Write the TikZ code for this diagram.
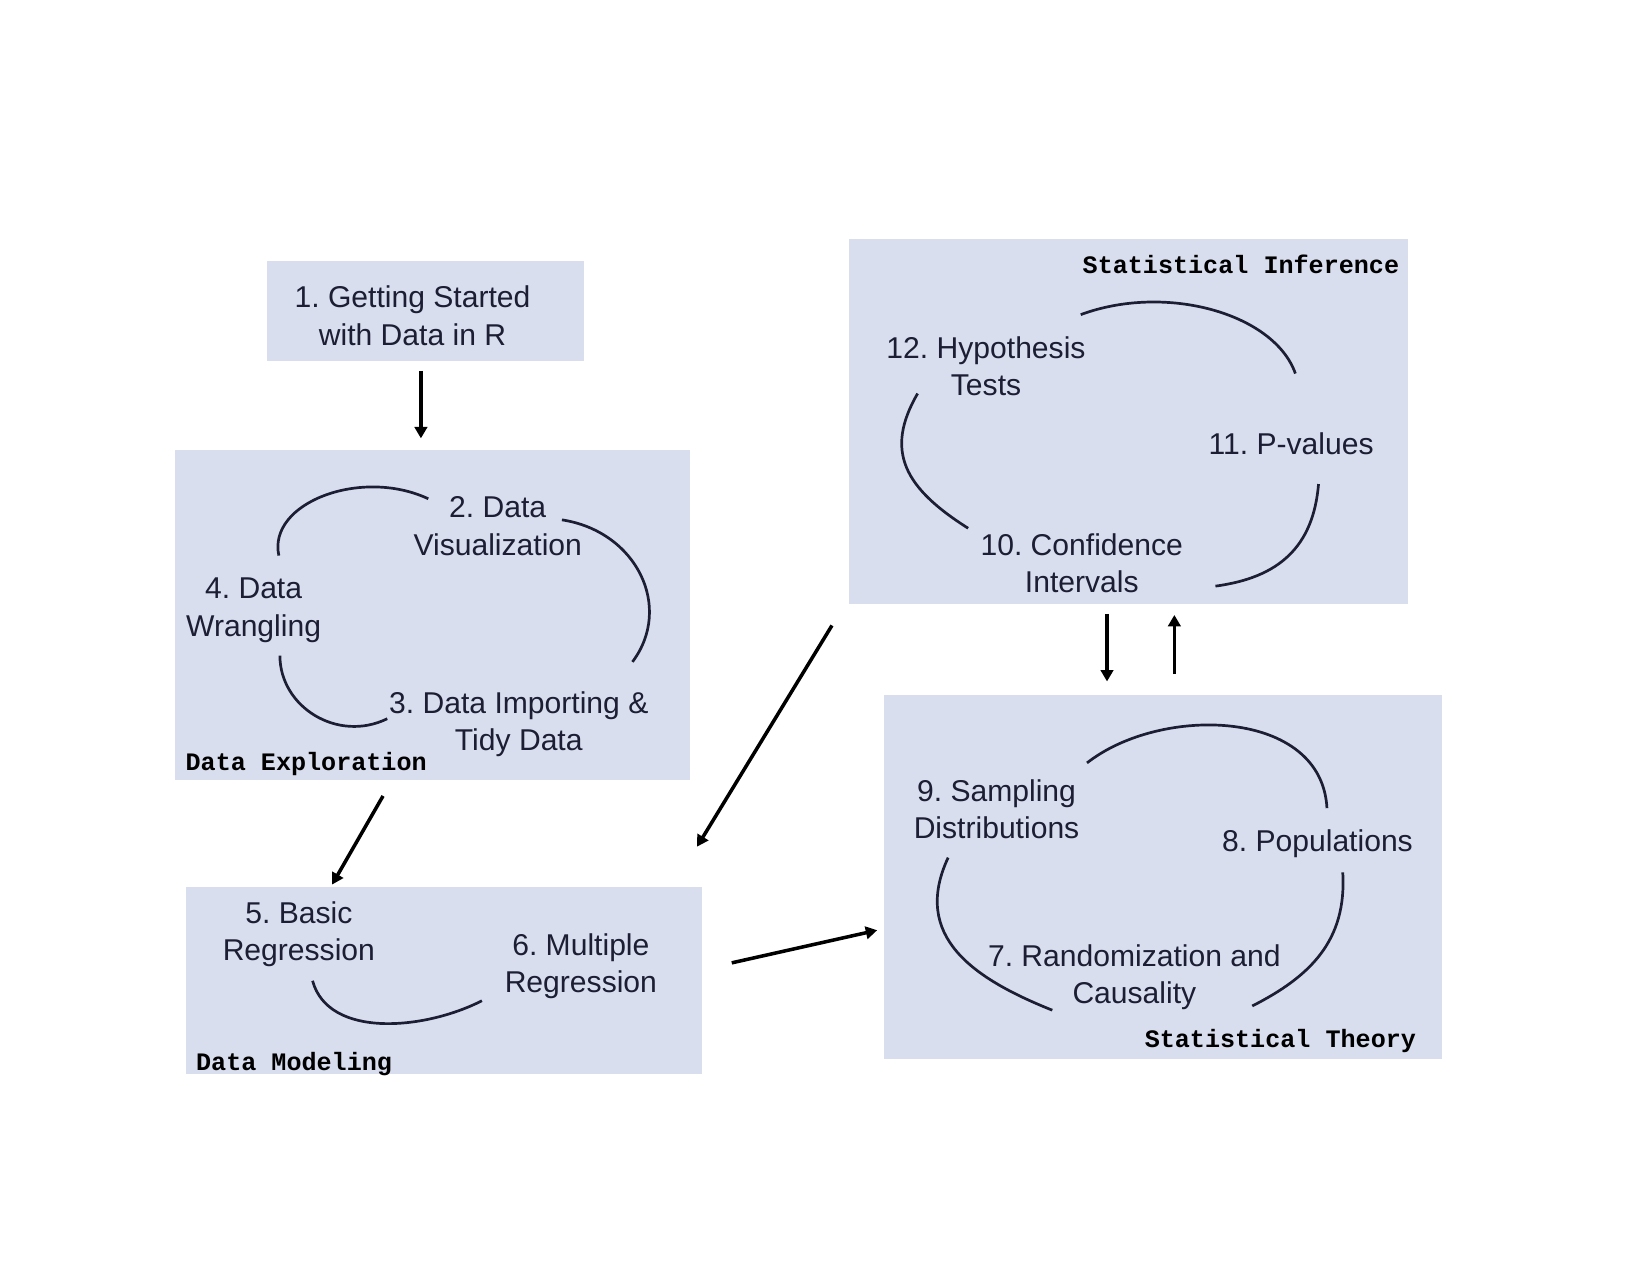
\documentclass[tikz,border=0pt]{standalone}
\usepackage{fontspec}
\setmainfont{Liberation Sans}
\setmonofont{Liberation Mono}
\frenchspacing
\definecolor{panelfill}{HTML}{D9DEEF}
\definecolor{ink}{HTML}{1C1E33}
\usetikzlibrary{arrows.meta, positioning, calc, fit}
\tikzset{
  panel/.style={fill=panelfill, draw=none, inner sep=0pt},
  topic/.style={font=\fontsize{14.5pt}{17.9pt}\selectfont, text=ink, align=center, inner sep=0pt},
  part/.style={font=\fontsize{12.1pt}{14pt}\selectfont\ttfamily\bfseries, inner sep=0pt},
  cyc/.style={ink, line width=1.3pt},
  flow/.style={-{Triangle[length=5.5pt,width=6pt]}, line width=1.7pt, black},
}
\begin{document}
\begin{tikzpicture}[x=0.017819cm, y=-0.017819cm]
  \fill[white] (0,0) rectangle (1568,1212);
  % the five parts
  \node[panel, fit={(254,248) (555,343)}] (intro) {};
  \node[panel, fit={(166,428) (656,741)}] (explo) {};
  \node[panel, fit={(177,843) (667,1021)}] (model) {};
  \node[panel, fit={(807,227) (1338,574)}] (infer) {};
  \node[panel, fit={(840,660) (1370,1006)}] (theory) {};
  \node[part, anchor=west] (exploLbl) at (176,726.5) {Data Exploration};
  \node[part, anchor=west] (modelLbl) at (186,1011) {Data Modeling};
  \node[part, anchor=east] (inferLbl) at (1330,251) {Statistical Inference};
  \node[part, anchor=east] (theoryLbl) at (1346,989) {Statistical Theory};
  % chapters
  \node[topic] (ch1) at (392,300) {1. Getting Started\\with Data in R};
  \node[topic] (ch2) at (473,500) {2. Data\\Visualization};
  \node[topic] (ch3) at (493,688.5) {3. Data Importing \&\\Tidy Data};
  \node[topic] (ch4) at (241,580) {4. Data\\Wrangling};
  \node[topic] (ch5) at (284,888) {5. Basic\\Regression};
  \node[topic] (ch6) at (552,918.5) {6. Multiple\\Regression};
  \node[topic] (ch7) at (1078,929) {7. Randomization and\\Causality};
  \node[topic] (ch8) at (1252,802) {8. Populations};
  \node[topic] (ch9) at (947,769) {9. Sampling\\Distributions};
  \node[topic] (ch10) at (1028,535) {10. Confidence\\Intervals};
  \node[topic] (ch11) at (1227,421.5) {11. P-values};
  \node[topic] (ch12) at (937,348) {12. Hypothesis\\Tests};
  % cycles
  \draw[cyc] (265,528) .. controls +(-11,-50) and +(-64,-30) .. (407,474);
  \draw[cyc] (534,494) .. controls +(71,11) and +(39,-52) .. (601,629);
  \draw[cyc] (266,623) .. controls +(0,49) and +(-47,23) .. (368,683);
  \draw[cyc] (297,932) .. controls +(15,55) and +(-55,28) .. (458,951);
  \draw[cyc] (1027,299) .. controls +(81,-30) and +(-20,-57) .. (1231,355);
  \draw[cyc] (872,374) .. controls +(-32,55) and +(-60,-38) .. (920,502);
  \draw[cyc] (1253,460) .. controls +(-5,60) and +(60,-8) .. (1155,557);
  \draw[cyc] (1033,725) .. controls +(70,-55) and +(-5,-95) .. (1261,768);
  \draw[cyc] (901,815) .. controls +(-35,75) and +(-75,-30) .. (1000,960);
  \draw[cyc] (1276,829) .. controls +(4,65) and +(55,-28) .. (1190,956);
  % flow between parts
  \draw[flow] ($(intro.south)+(-4.5,9)$) -- ($(explo.north)+(-11,-11)$);
  \draw[flow] ($(explo.south)+(-47,15)$) -- ($(model.north west)+(139,-2)$);
  \draw[flow] ($(infer.south west)+(-16,20)$) -- ($(model.north east)+(-5,-38)$);
  \draw[flow] ($(model.east)+(28,-17)$) -- ($(theory.west)+(-6,51)$);
  \draw[flow] ($(infer.south)+(-20.5,9)$) -- ($(theory.north)+(-53,-12)$);
  \draw[flow] ($(theory.north)+(11,-19)$) -- ($(infer.south)+(43.5,10)$);
\end{tikzpicture}
\end{document}
